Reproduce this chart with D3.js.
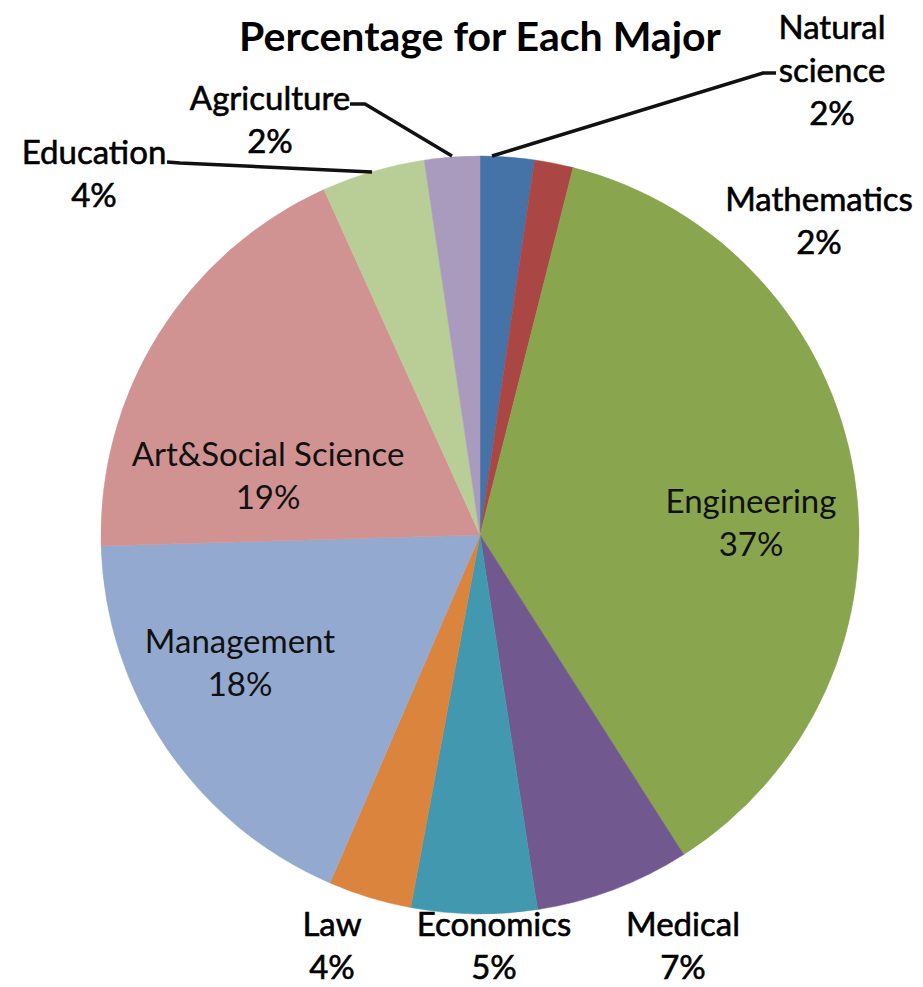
<!DOCTYPE html>
<html>
<head>
<meta charset="utf-8">
<script src="https://cdn.jsdelivr.net/npm/d3@7"></script>
<style>
  html, body { margin: 0; padding: 0; background: #fff; }
  svg { display: block; }
</style>
</head>
<body>
<script>
// ---- Data ----
const categories = ["Natural science", "Mathematics", "Engineering", "Medical", "Economics",
                    "Law", "Management", "Art&Social Science", "Education", "Agriculture"];
const values = [2.3, 1.65, 37.0, 6.6, 5.35, 3.55, 18.05, 18.7, 4.4, 2.35];
const colors = ["#4572A7", "#AA4643", "#89A54E", "#71588F", "#4198AF",
                "#DB843D", "#93A9CF", "#D19392", "#B9CD96", "#A99BBD"];
const titleText = "Percentage for Each Major";

// ---- Layout (label anchors relative to pie centre; label lines) ----
const W = 923, H = 987;
const cx = 480, cy = 535, R = 379;
const lineH = 43;
const labelLayout = {
  "Natural science":    { dx: 352, dy: -465, lines: ["Natural", "science"], outside: true },
  "Mathematics":        { dx: 339, dy: -314, outside: true },
  "Engineering":        { dx: 271, dy: -12 },
  "Medical":            { dx: 203, dy: 411, outside: true },
  "Economics":          { dx: 14,  dy: 411, outside: true },
  "Law":                { dx: -148, dy: 411, outside: true },
  "Management":         { dx: -240, dy: 128 },
  "Art&Social Science": { dx: -212, dy: -59 },
  "Education":          { dx: -386, dy: -361, outside: true },
  "Agriculture":        { dx: -210, dy: -415, outside: true }
};
const leaders = {
  "Agriculture":     [[350, 104], [365, 104], [452, 156]],
  "Natural science": [[492, 156], [763, 73], [776, 73]],
  "Education":       [[167, 162], [180, 163], [372, 172]]
};

const svg = d3.select("body").append("svg").attr("width", W).attr("height", H);

const total = d3.sum(values);
const data = categories.map((c, i) => ({ cat: c, value: values[i], color: colors[i] }));

const pie = d3.pie().sort(null).value(d => d.value);
const arc = d3.arc().innerRadius(0).outerRadius(R);

const g = svg.append("g").attr("transform", `translate(${cx},${cy})`);
g.selectAll("path.slice")
  .data(pie(data))
  .join("path")
  .attr("class", "slice")
  .attr("d", arc)
  .attr("fill", d => d.data.color)
  .attr("stroke", d => d.data.color)
  .attr("stroke-width", 0.5);

// leader lines
const line = d3.line();
svg.selectAll("path.leader")
  .data(Object.entries(leaders))
  .join("path")
  .attr("class", "leader")
  .attr("d", d => line(d[1]))
  .attr("fill", "none")
  .attr("stroke", "#111")
  .attr("stroke-width", 3.5);

// labels
const font = "Lato, 'Open Sans', sans-serif";
data.forEach(d => {
  const L = labelLayout[d.cat];
  const pct = Math.round(d.value / total * 100) + "%";
  const lines = (L.lines || [d.cat]).concat([pct]);
  const n = lines.length;
  const t = svg.append("text")
    .attr("text-anchor", "middle")
    .attr("font-family", font)
    .attr("font-size", 33)
    .attr("fill", L.outside ? "#000" : "#111")
    .attr("stroke", L.outside ? "#000" : "none")
    .attr("stroke-width", L.outside ? 0.6 : 0);
  lines.forEach((s, i) => {
    t.append("tspan")
      .attr("x", cx + L.dx)
      .attr("y", cy + L.dy + (i - (n - 1) / 2) * lineH)
      .attr("dy", "0.35em")
      .text(s);
  });
});

// title
svg.append("text")
  .attr("x", 480)
  .attr("y", 51)
  .attr("text-anchor", "middle")
  .attr("font-family", font)
  .attr("font-weight", "bold")
  .attr("font-size", 41)
  .attr("fill", "#000")
  .text(titleText);
</script>
</body>
</html>
